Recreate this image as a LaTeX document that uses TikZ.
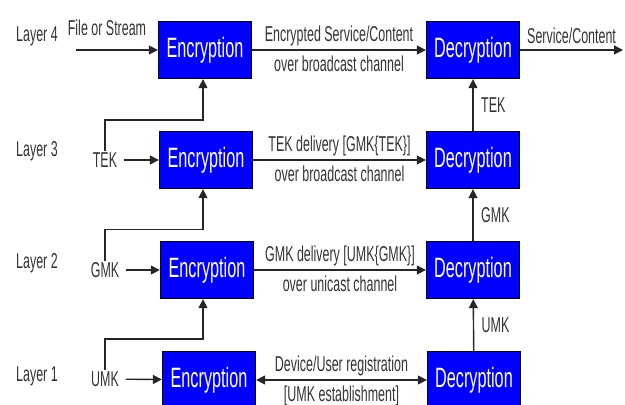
\documentclass[tikz,border=0pt]{standalone}
\usepackage{fontspec}
\setmainfont{Liberation Sans}[FakeStretch=0.58]
\usetikzlibrary{arrows.meta}

\tikzset{
  box/.style={draw=black, fill=blue, text=white, line width=1.3pt,
    minimum width=93pt, minimum height=57pt, inner sep=0pt,
    font=\fontsize{28}{32}\selectfont},
  lbl/.style={text=black!80, font=\fontsize{21.5}{24}\selectfont, inner sep=1.5pt},
  link/.style={line width=1.4pt, draw=black!85, -{Triangle[length=9pt,width=9pt]}},
  both/.style={line width=1.4pt, draw=black!85,
    {Triangle[length=9pt,width=9pt]}-{Triangle[length=9pt,width=9pt]}},
}

\begin{document}
\begin{tikzpicture}[x=1pt,y=-1pt]
\useasboundingbox (0,0) rectangle (625,405);

% layer names
\node[lbl] (l4) at (37,36) {Layer 4};
\node[lbl] (l3) at (37,151) {Layer 3};
\node[lbl] (l2) at (37,263) {Layer 2};
\node[lbl] (l1) at (37,376) {Layer 1};

% encryption and decryption boxes
\node[box] (enc4) at (205,50) {Encryption};
\node[box] (enc3) at (206,160) {Encryption};
\node[box] (enc2) at (207,270) {Encryption};
\node[box] (enc1) at (209,380) {Encryption};

\node[box] (dec4) at (473,50) {Decryption};
\node[box] (dec3) at (473,160) {Decryption};
\node[box] (dec2) at (473,270) {Decryption};
\node[box] (dec1) at (474,380) {Decryption};

% inputs on the left
\node[lbl] (src) at (107,28) {File or Stream};
\coordinate (in4) at (76,50);
\node[lbl] (tek) at (105,160) {TEK};
\node[lbl] (gmk) at (105,270) {GMK};
\node[lbl] (umk) at (105,379) {UMK};

\draw[link] (in4) -- (enc4);
\draw[link, shorten <=5pt] (tek) -- (enc3);
\draw[link, shorten <=5pt] (gmk) -- (enc2);
\draw[link, shorten <=5pt] (umk) -- (enc1);

% keys feed the layer above
\draw[link] (tek.north) -- ++(0,-31) -| ([xshift=-2pt]enc4.south);
\draw[link] (gmk.north) -- ++(0,-31) -| ([xshift=-3pt]enc3.south);
\draw[link] (umk.north) -- ++(0,-31) -| ([xshift=-4pt]enc2.south);

% channels
\draw[link] (enc4) -- node[lbl, above=2pt] {Encrypted Service/Content}
  node[lbl, below=4pt] {over broadcast channel} (dec4);
\draw[link] (enc3) -- node[lbl, above=2pt] {TEK delivery [GMK\{TEK\}]}
  node[lbl, below=4pt] {over broadcast channel} (dec3);
\draw[link] (enc2) -- node[lbl, above=2pt] {GMK delivery [UMK\{GMK\}]}
  node[lbl, below=4pt] {over unicast channel} (dec2);
\draw[both] (enc1) -- node[lbl, above=2pt] {Device/User registration}
  node[lbl, below=4pt] {[UMK establishment]} (dec1);

% keys recovered on the right
\draw[link] (dec3) -- node[lbl, right=6pt] {TEK} (dec4);
\draw[link] (dec2) -- node[lbl, right=6pt] {GMK} (dec3);
\draw[link] (dec1) -- node[lbl, right=6pt] {UMK} (dec2);

% output
\coordinate (out) at (623,50);
\draw[link] (dec4) -- node[lbl, above=4pt] {Service/Content} (out);

\end{tikzpicture}
\end{document}
